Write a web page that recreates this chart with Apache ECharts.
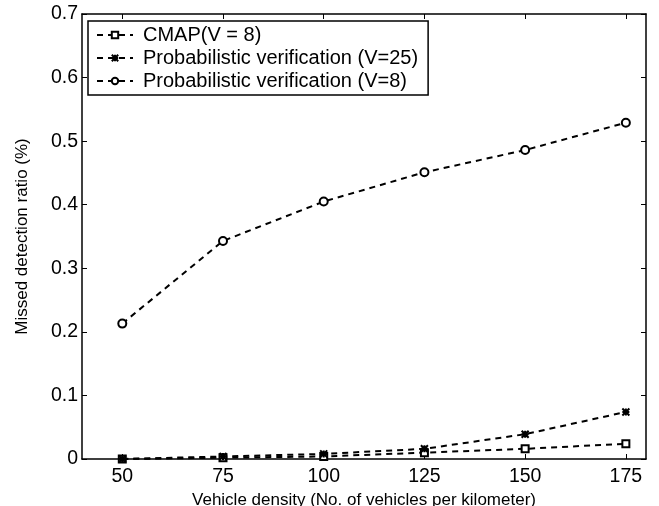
<!DOCTYPE html>
<html><head><meta charset="utf-8">
<script src="https://cdn.jsdelivr.net/npm/echarts@6/dist/echarts.min.js"></script>
<style>html,body{margin:0;padding:0;background:#fff}#c{width:659px;height:506px}</style>
</head><body><div id="c"></div>
<script>
var densities = [50, 75, 100, 125, 150, 175];
var xTicks = [50, 75, 100, 125, 150, 175];
var yTicks = [0, 0.1, 0.2, 0.3, 0.4, 0.5, 0.6, 0.7];
var cmapV8 = [0.000, 0.002, 0.004, 0.010, 0.016, 0.024];
var probV25 = [0.000, 0.004, 0.008, 0.016, 0.039, 0.074];
var probV8 = [0.213, 0.343, 0.405, 0.451, 0.486, 0.529];
var seriesNames = ['CMAP(V = 8)', 'Probabilistic verification (V=25)', 'Probabilistic verification (V=8)'];

var font = 'Liberation Sans, Arial, Helvetica, sans-serif';
var crossPath = 'path://M0,0 L10,10 M10,0 L0,10 M5,0 L5,10 M0,5 L10,5';
function pairs(v){ return densities.map(function(d,i){return [d, v[i]];}); }
function mkSeries(name, data, symbol, size){
  return {
    name: name, type: 'line', data: pairs(data), symbol: symbol, symbolSize: size,
    showAllSymbol: true,
    lineStyle: {color: '#000', width: 2, type: [6, 5]},
    itemStyle: {color: '#fff', borderColor: '#000', borderWidth: 2},
    emphasis: {disabled: true}, animation: false, z: 3
  };
}
var axisCommonX = {
  type: 'value', min: 40, max: 180,
  axisLine: {show: true, onZero: false, lineStyle: {color: '#000', width: 1.5}},
  axisTick: {show: true, inside: true, length: 5, customValues: xTicks, lineStyle: {color: '#000'}},
  splitLine: {show: false}
};
var axisCommonY = {
  type: 'value', min: 0, max: 0.7, interval: 0.1,
  axisLine: {show: true, onZero: false, lineStyle: {color: '#000', width: 1.5}},
  axisTick: {show: true, inside: true, length: 5, lineStyle: {color: '#000'}},
  splitLine: {show: false}
};
var chart = echarts.init(document.getElementById('c'));
chart.setOption({
  animation: false,
  backgroundColor: '#fff',
  textStyle: {fontFamily: font},
  grid: {left: 82, right: 13, top: 14, bottom: 47, containLabel: false, outerBoundsMode: 'none'},
  legend: {
    orient: 'vertical', left: 88, top: 21,
    data: seriesNames,
    backgroundColor: '#fff',
    borderColor: '#000', borderWidth: 1.5,
    padding: [3, 10, 3, 8],
    itemGap: 1, itemWidth: 36, itemHeight: 8,
    textStyle: {fontFamily: font, fontSize: 20, lineHeight: 22, color: '#000', padding: [0, 0, 0, 5]},
    selectedMode: false
  },
  xAxis: [
    Object.assign({}, axisCommonX, {
      position: 'bottom',
      name: 'Vehicle density (No. of vehicles per kilometer)',
      nameLocation: 'middle', nameGap: 28,
      nameTextStyle: {fontFamily: font, fontSize: 17, color: '#000'},
      axisLabel: {show: true, customValues: xTicks, fontFamily: font, fontSize: 19.5, color: '#000', margin: 8}
    }),
    Object.assign({}, axisCommonX, {position: 'top', axisLabel: {show: false}})
  ],
  yAxis: [
    Object.assign({}, axisCommonY, {
      position: 'left',
      name: 'Missed detection ratio (%)',
      nameLocation: 'middle', nameGap: 51,
      nameTextStyle: {fontFamily: font, fontSize: 17, color: '#000'},
      axisLabel: {show: true, fontFamily: font, fontSize: 19.5, color: '#000', margin: 4,
        formatter: function(v){ var r = Math.round(v*10)/10; return yTicks.indexOf(r) >= 0 ? r.toString() : ''; }}
    }),
    Object.assign({}, axisCommonY, {position: 'right', axisLabel: {show: false}})
  ],
  series: [
    mkSeries(seriesNames[0], cmapV8, 'rect', 7),
    mkSeries(seriesNames[1], probV25, crossPath, 7),
    mkSeries(seriesNames[2], probV8, 'circle', 8)
  ]
});
</script></body></html>
